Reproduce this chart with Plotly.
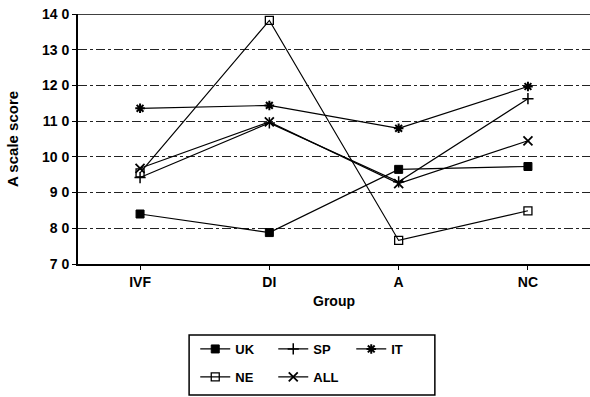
import plotly.graph_objects as go

groups = ["IVF", "DI", "A", "NC"]
uk = [8.40, 7.88, 9.65, 9.73]
sp = [9.42, 10.95, 9.30, 11.63]
it = [11.36, 11.44, 10.80, 11.97]
ne = [9.55, 13.82, 7.66, 8.49]
all_ = [9.68, 10.98, 9.25, 10.45]

y_tickvals = [7, 8, 9, 10, 11, 12, 13, 14]
y_ticktext = ["7 0", "8 0", "9 0", "10 0", "11 0", "12 0", "13 0", "14 0"]

FONT = "Liberation Sans, Arial, sans-serif"

series = [
    ("UK", uk, "square", 8, 1, "legend"),
    ("SP", sp, "cross-thin-open", 8, 1.5, "legend"),
    ("IT", it, "asterisk-open", 8, 2, "legend"),
    ("NE", ne, "square-open", 8, 1.3, "legend2"),
    ("ALL", all_, "x-thin-open", 9, 1.8, "legend2"),
]

fig = go.Figure()
for name, vals, sym, size, lw, leg in series:
    fig.add_trace(go.Scatter(
        x=groups, y=vals, name=name, mode="lines+markers",
        line=dict(color="black", width=1.2),
        marker=dict(symbol=sym, size=size, color="black",
                    line=dict(color="black", width=lw)),
        legend=leg,
    ))

leg_common = dict(orientation="h", x=0.229, xanchor="left", yanchor="top",
                  entrywidth=33, entrywidthmode="pixels",
                  font=dict(family=FONT, size=13, weight="bold"),
                  bgcolor="rgba(0,0,0,0)", borderwidth=0)

fig.update_layout(
    width=590, height=397,
    margin=dict(l=78, r=0, t=14, b=133),
    paper_bgcolor="white", plot_bgcolor="white",
    font=dict(family=FONT, color="black", size=12),
    showlegend=True,
    legend=dict(leg_common, y=-0.28),
    legend2=dict(leg_common, y=-0.392),
    shapes=[dict(type="rect", xref="paper", yref="paper",
                 x0=0.217, x1=0.697, y0=-0.524, y1=-0.284,
                 line=dict(color="black", width=1.5))],
)

fig.update_xaxes(
    type="category", range=[-0.48, 3.48], automargin=False,
    showgrid=False, showline=True, linecolor="black", linewidth=1.5,
    ticks="outside", ticklen=4, tickcolor="black",
    tickfont=dict(family=FONT, size=14, weight="bold"),
    title=dict(text="Group", font=dict(family=FONT, size=14, weight="bold"), standoff=8),
    zeroline=False,
)
fig.update_yaxes(
    range=[7, 14], tickvals=y_tickvals, ticktext=y_ticktext, automargin=False,
    showgrid=True, gridcolor="#222222", griddash="dashdot", gridwidth=1,
    showline=True, linecolor="black", linewidth=2, mirror=False,
    ticks="outside", ticklen=4, tickcolor="black",
    tickfont=dict(family=FONT, size=14, weight="bold"),
    title=dict(text="A scale score", font=dict(family=FONT, size=15, weight="bold"), standoff=20),
    zeroline=False,
)
fig.add_shape(type="line", xref="paper", yref="y", x0=0, x1=1, y0=14, y1=14,
              line=dict(color="black", width=1.5))

fig.write_html("out.html", config={"displayModeBar": False},
               post_script="document.body.style.margin='0';")
